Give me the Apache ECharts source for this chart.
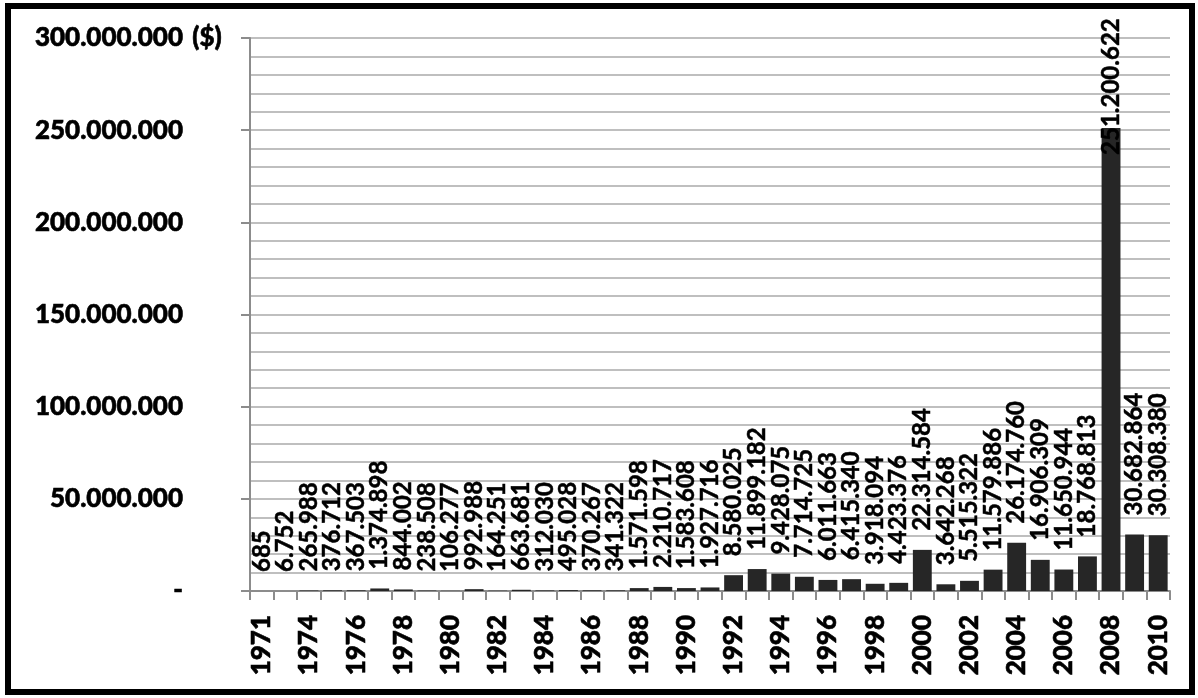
<!DOCTYPE html>
<html>
<head>
<meta charset="utf-8">
<script src="https://cdn.jsdelivr.net/npm/echarts@6/dist/echarts.min.js"></script>
<style>
  html, body { margin: 0; padding: 0; background: #fff; }
  #main { width: 1198px; height: 698px; }
</style>
</head>
<body>
<div id="main"></div>
<script>
// 年份 (1972 无数据)
var years = ['1971', '1972', '1974', '1975', '1976', '1977', '1978', '1979', '1980', '1981',
  '1982', '1983', '1984', '1985', '1986', '1987', '1988', '1989', '1990', '1991',
  '1992', '1993', '1994', '1995', '1996', '1997', '1998', '1999', '2000', '2001',
  '2002', '2003', '2004', '2005', '2006', '2007', '2008', '2009', '2010'];

// 金额 ($)
var amounts = [685, 6752, 265988, 376712, 367503, 1374898, 844002, 238508, 106277, 992988,
  164251, 663681, 312030, 495028, 370267, 341322, 1571598, 2210717, 1583608, 1927716,
  8580025, 11899182, 9428075, 7714725, 6011663, 6415340, 3918094, 4423376, 22314584, 3642268,
  5515322, 11579886, 26174760, 16906309, 11650944, 18768813, 251200622, 30682864, 30308380];

var yTicks = [0, 50000000, 100000000, 150000000, 200000000, 250000000, 300000000];

var FONT = 'Lato';

function fmt(v) {
  return String(v).replace(/\B(?=(\d{3})+(?!\d))/g, '.');
}

var myChart = echarts.init(document.getElementById('main'));

var barData = amounts.map(function (v, i) {
  var item = { value: v };
  if (v > 200000000) {
    // 顶部空间不够, 标签压到柱子里
    item.label = { distance: -27 };
  }
  return item;
});

var option = {
  animation: false,
  backgroundColor: '#fff',
  grid: { left: 250, right: 28, top: 38, bottom: 107 },
  graphic: [
    {
      type: 'rect',
      shape: { x: 8, y: 6, width: 1184, height: 686 },
      style: { fill: 'none', stroke: '#000', lineWidth: 6 }
    },
    {
      type: 'text',
      left: 192,
      top: 24,
      style: { text: '($)', font: '900 26px Lato', fill: '#000', stroke: '#000', lineWidth: 0.6 }
    }
  ],
  xAxis: {
    type: 'category',
    data: years,
    axisLine: { lineStyle: { color: '#8c8c8c', width: 2 } },
    axisTick: { show: true, interval: 0, length: 9, lineStyle: { color: '#8c8c8c', width: 2 } },
    axisLabel: {
      interval: 1,
      rotate: 90,
      margin: 24,
      color: '#000',
      fontFamily: FONT,
      fontWeight: 900,
      fontSize: 26,
      textBorderColor: '#000',
      textBorderWidth: 0.6
    }
  },
  yAxis: {
    type: 'value',
    min: yTicks[0],
    max: yTicks[yTicks.length - 1],
    interval: 50000000,
    axisLine: { show: true, lineStyle: { color: '#8c8c8c', width: 2 } },
    axisTick: { show: true, length: 9, lineStyle: { color: '#8c8c8c', width: 2 } },
    splitLine: { show: true, lineStyle: { color: '#bfbfbf', width: 2 } },
    minorTick: { show: false, splitNumber: 5 },
    minorSplitLine: { show: true, lineStyle: { color: '#bfbfbf', width: 2 } },
    axisLabel: {
      margin: 67,
      color: '#000',
      fontFamily: FONT,
      fontWeight: 900,
      fontSize: 26,
      textBorderColor: '#000',
      textBorderWidth: 0.6,
      formatter: function (v) {
        if (v === 0) return '-';
        return fmt(v);
      }
    }
  },
  series: [{
    name: '金额',
    type: 'bar',
    barCategoryGap: '20%',
    itemStyle: { color: '#262626' },
    label: {
      show: true,
      position: 'top',
      rotate: 90,
      align: 'left',
      verticalAlign: 'middle',
      distance: 19,
      color: '#000',
      fontFamily: FONT,
      fontWeight: 'bold',
      fontSize: 24,
      textBorderColor: '#000',
      textBorderWidth: 0.5,
      formatter: function (p) { return fmt(p.value); }
    },
    data: barData
  }]
};

myChart.setOption(option);
</script>
</body>
</html>
